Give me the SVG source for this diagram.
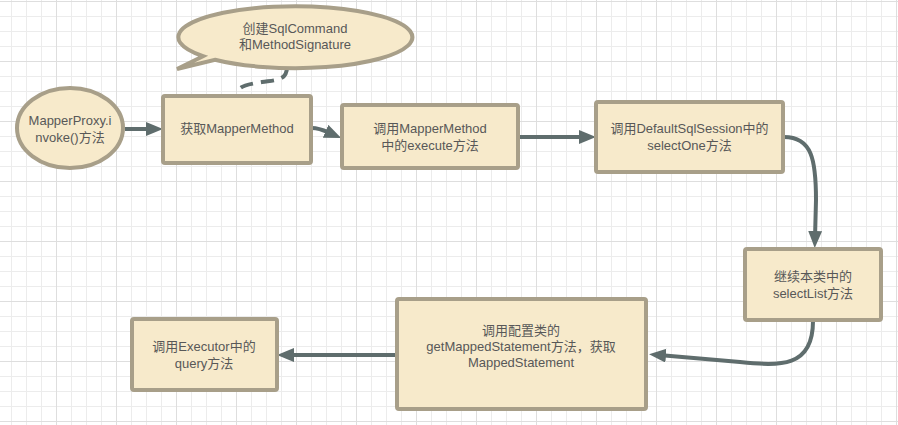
<svg xmlns="http://www.w3.org/2000/svg" width="898" height="425" viewBox="0 0 898 425">
<defs>
<pattern id="gminor" patternUnits="userSpaceOnUse" x="11" y="1" width="15" height="15">
<path d="M0,0.5 H15 M0.5,0 V15" stroke="#ececec" stroke-width="1" fill="none"/>
</pattern>
<pattern id="gmajor" patternUnits="userSpaceOnUse" x="56" y="1" width="60" height="60">
<path d="M0,0.5 H60 M0.5,0 V60" stroke="#dedede" stroke-width="1" fill="none"/>
</pattern>
<marker id="arrow" markerUnits="userSpaceOnUse" markerWidth="20" markerHeight="16" refX="7" refY="7" orient="auto">
<path d="M0,0 L17,7 L0,14 Z" fill="#5f6d6d"/>
</marker>
</defs>
<style>
.node{fill:#f7eacb;stroke:#a89f89;stroke-width:4}
.lbl{font-family:"Liberation Sans","Noto Sans CJK SC",sans-serif;font-size:13px;fill:#585858;text-anchor:middle}
.conn{fill:none;stroke:#5f6d6d;stroke-width:4}
</style>
<rect width="898" height="425" fill="#ffffff"/>
<rect width="898" height="425" fill="url(#gminor)"/>
<rect width="898" height="425" fill="url(#gmajor)"/>

<g id="connectors">
<path class="conn" d="M287,67 C287,81 275,80 262,82 C245,85 237,86 237,96" stroke-dasharray="13,8"/>
<path class="conn" d="M125,129 L153,129" marker-end="url(#arrow)"/>
<path class="conn" d="M312,128 C320,128 325,131 332,134" marker-end="url(#arrow)"/>
<path class="conn" d="M519,137 L586,137" marker-end="url(#arrow)"/>
<path class="conn" d="M784,137 C812,137 816,160 816,200 L815,238" marker-end="url(#arrow)"/>
<path class="conn" d="M813,321 C813,368 780,366 740,362 L659,355" marker-end="url(#arrow)"/>
<path class="conn" d="M396,355 L287,355" marker-end="url(#arrow)"/>
</g>

<g id="callout">
<path class="node" d="M203,56.2 L177,69 L215,59.7 A117,31 0 1,0 203,56.2 Z" stroke-linejoin="miter"/>
<text class="lbl" x="295" y="33">创建SqlCommand</text>
<text class="lbl" x="295" y="49">和MethodSignature</text>
</g>

<g id="mapperProxy">
<ellipse class="node" cx="70" cy="128" rx="53" ry="40"/>
<text class="lbl" x="70" y="125">MapperProxy.i</text>
<text class="lbl" x="70" y="142">nvoke()方法</text>
</g>

<g id="getMapperMethod">
<rect class="node" x="163" y="96" width="148" height="67" rx="2"/>
<text class="lbl" x="237" y="133">获取MapperMethod</text>
</g>

<g id="execute">
<rect class="node" x="342" y="105" width="176" height="63" rx="2"/>
<text class="lbl" x="430" y="133">调用MapperMethod</text>
<text class="lbl" x="430" y="150">中的execute方法</text>
</g>

<g id="selectOne">
<rect class="node" x="596" y="102" width="187" height="70" rx="2"/>
<text class="lbl" x="689.5" y="133">调用DefaultSqlSession中的</text>
<text class="lbl" x="689.5" y="150">selectOne方法</text>
</g>

<g id="selectList">
<rect class="node" x="745" y="249" width="136" height="71" rx="2"/>
<text class="lbl" x="813" y="281">继续本类中的</text>
<text class="lbl" x="813" y="298">selectList方法</text>
</g>

<g id="getMappedStatement">
<rect class="node" x="397" y="299" width="249" height="110" rx="2"/>
<text class="lbl" x="521" y="335">调用配置类的</text>
<text class="lbl" x="521" y="351">getMappedStatement方法，获取</text>
<text class="lbl" x="521" y="367">MappedStatement</text>
</g>

<g id="executorQuery">
<rect class="node" x="132" y="319" width="145" height="71" rx="2"/>
<text class="lbl" x="204" y="351">调用Executor中的</text>
<text class="lbl" x="204" y="368">query方法</text>
</g>
</svg>
